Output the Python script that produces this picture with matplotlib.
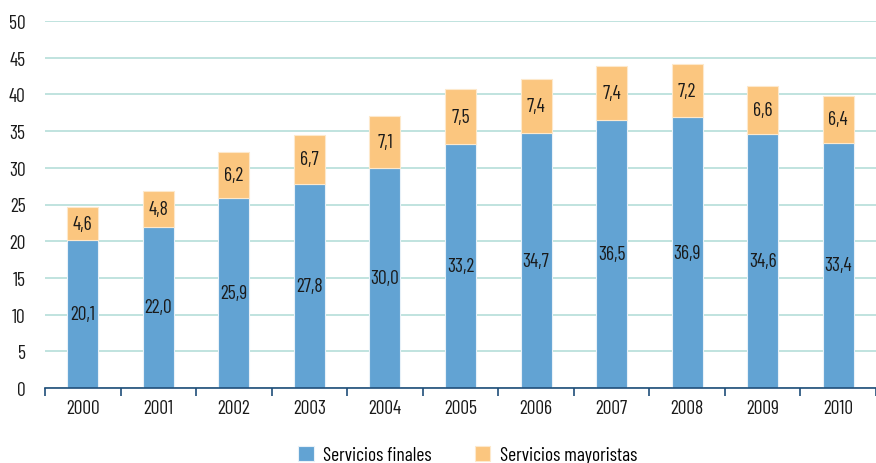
import matplotlib.pyplot as plt

years = ["2000", "2001", "2002", "2003", "2004", "2005", "2006", "2007", "2008", "2009", "2010"]
finales = [20.1, 22.0, 25.9, 27.8, 30.0, 33.2, 34.7, 36.5, 36.9, 34.6, 33.4]
mayoristas = [4.6, 4.8, 6.2, 6.7, 7.1, 7.5, 7.4, 7.4, 7.2, 6.6, 6.4]

plt.rcParams["font.family"] = ["Barlow Condensed", "DejaVu Sans"]

blue = "#62a3d3"
orange = "#fbc67f"

fig = plt.figure(figsize=(8.76, 4.64), dpi=100)
ax = fig.add_axes([45 / 876, 1 - 389 / 464, 831 / 876, 367 / 464])

x = range(len(years))
ax.bar(x, finales, width=0.41, color=blue, edgecolor="#e8f1f8", linewidth=0.8,
       label="Servicios finales", zorder=3)
ax.bar(x, mayoristas, width=0.41, bottom=finales, color=orange, edgecolor="#fde9cc",
       linewidth=0.8, label="Servicios mayoristas", zorder=3)

for i in x:
    ax.text(i, finales[i] / 2, f"{finales[i]:.1f}".replace(".", ","),
            ha="center", va="center", fontsize=14, color="#1a1a1a", zorder=4)
    ax.text(i, finales[i] + mayoristas[i] / 2, f"{mayoristas[i]:.1f}".replace(".", ","),
            ha="center", va="center", fontsize=14, color="#1a1a1a", zorder=4)

ax.set_ylim(0, 50)
ax.set_yticks(range(0, 51, 5))
ax.set_xlim(-0.5, 10.4)
ax.set_xticks(list(x))
ax.set_xticklabels(years)
ax.set_xticks([i - 0.5 for i in range(len(years) + 1)], minor=True)

ax.grid(axis="y", color="#b5ded9", linewidth=1.2, zorder=0)
for s in ["top", "right", "left"]:
    ax.spines[s].set_visible(False)
ax.spines["bottom"].set_color("#1f4e79")
ax.spines["bottom"].set_linewidth(1.2)
ax.spines["bottom"].set_zorder(5)
ax.tick_params(axis="y", length=0, labelsize=14, pad=14, labelcolor="#1a1a1a")
ax.tick_params(axis="x", which="major", length=0, labelsize=14, pad=8, labelcolor="#1a1a1a")
ax.tick_params(axis="x", which="minor", length=6, width=1.2, color="#1f4e79")

fig.legend(loc="lower center", bbox_to_anchor=(0.534, -0.04), ncol=2, frameon=False,
           fontsize=14, handlelength=0.8, handleheight=0.8, columnspacing=2.2, handletextpad=0.5)

fig.savefig("out.png", dpi=100)
